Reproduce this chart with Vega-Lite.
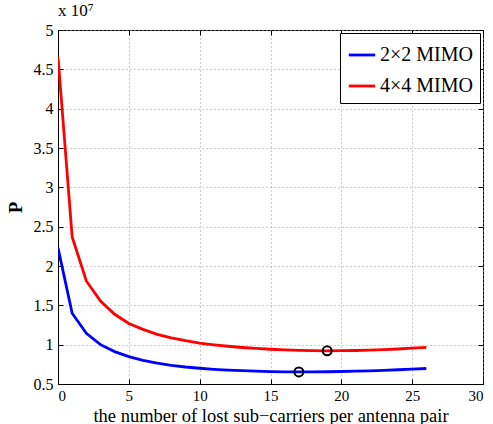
{
  "$schema": "https://vega.github.io/schema/vega-lite/v6.json",
  "width": 425,
  "height": 354,
  "autosize": "none",
  "padding": {"left": 58, "top": 30, "right": 10, "bottom": 40},
  "background": "white",
  "config": {
    "font": "Liberation Serif",
    "view": {"stroke": "black", "strokeWidth": 1}
  },
  "title": {
    "text": "x 10⁷",
    "anchor": "start",
    "frame": "group",
    "fontSize": 17,
    "fontWeight": "normal",
    "font": "Liberation Serif",
    "color": "black",
    "offset": 2
  },
  "datasets": {
    "curves": [
      {"x": 0, "P": 2.23, "series": "2×2 MIMO"},
      {"x": 1, "P": 1.40, "series": "2×2 MIMO"},
      {"x": 2, "P": 1.145, "series": "2×2 MIMO"},
      {"x": 3, "P": 1.0, "series": "2×2 MIMO"},
      {"x": 4, "P": 0.912, "series": "2×2 MIMO"},
      {"x": 5, "P": 0.848, "series": "2×2 MIMO"},
      {"x": 6, "P": 0.80, "series": "2×2 MIMO"},
      {"x": 7, "P": 0.765, "series": "2×2 MIMO"},
      {"x": 8, "P": 0.737, "series": "2×2 MIMO"},
      {"x": 9, "P": 0.716, "series": "2×2 MIMO"},
      {"x": 10, "P": 0.70, "series": "2×2 MIMO"},
      {"x": 11, "P": 0.687, "series": "2×2 MIMO"},
      {"x": 12, "P": 0.677, "series": "2×2 MIMO"},
      {"x": 13, "P": 0.669, "series": "2×2 MIMO"},
      {"x": 14, "P": 0.663, "series": "2×2 MIMO"},
      {"x": 15, "P": 0.658, "series": "2×2 MIMO"},
      {"x": 16, "P": 0.655, "series": "2×2 MIMO"},
      {"x": 17, "P": 0.653, "series": "2×2 MIMO"},
      {"x": 18, "P": 0.654, "series": "2×2 MIMO"},
      {"x": 19, "P": 0.656, "series": "2×2 MIMO"},
      {"x": 20, "P": 0.659, "series": "2×2 MIMO"},
      {"x": 21, "P": 0.663, "series": "2×2 MIMO"},
      {"x": 22, "P": 0.668, "series": "2×2 MIMO"},
      {"x": 23, "P": 0.674, "series": "2×2 MIMO"},
      {"x": 24, "P": 0.681, "series": "2×2 MIMO"},
      {"x": 25, "P": 0.689, "series": "2×2 MIMO"},
      {"x": 26, "P": 0.697, "series": "2×2 MIMO"},
      {"x": 0, "P": 4.66, "series": "4×4 MIMO"},
      {"x": 1, "P": 2.37, "series": "4×4 MIMO"},
      {"x": 2, "P": 1.81, "series": "4×4 MIMO"},
      {"x": 3, "P": 1.555, "series": "4×4 MIMO"},
      {"x": 4, "P": 1.386, "series": "4×4 MIMO"},
      {"x": 5, "P": 1.27, "series": "4×4 MIMO"},
      {"x": 6, "P": 1.195, "series": "4×4 MIMO"},
      {"x": 7, "P": 1.13, "series": "4×4 MIMO"},
      {"x": 8, "P": 1.085, "series": "4×4 MIMO"},
      {"x": 9, "P": 1.05, "series": "4×4 MIMO"},
      {"x": 10, "P": 1.02, "series": "4×4 MIMO"},
      {"x": 11, "P": 0.998, "series": "4×4 MIMO"},
      {"x": 12, "P": 0.98, "series": "4×4 MIMO"},
      {"x": 13, "P": 0.964, "series": "4×4 MIMO"},
      {"x": 14, "P": 0.952, "series": "4×4 MIMO"},
      {"x": 15, "P": 0.942, "series": "4×4 MIMO"},
      {"x": 16, "P": 0.934, "series": "4×4 MIMO"},
      {"x": 17, "P": 0.928, "series": "4×4 MIMO"},
      {"x": 18, "P": 0.924, "series": "4×4 MIMO"},
      {"x": 19, "P": 0.922, "series": "4×4 MIMO"},
      {"x": 20, "P": 0.923, "series": "4×4 MIMO"},
      {"x": 21, "P": 0.926, "series": "4×4 MIMO"},
      {"x": 22, "P": 0.93, "series": "4×4 MIMO"},
      {"x": 23, "P": 0.937, "series": "4×4 MIMO"},
      {"x": 24, "P": 0.945, "series": "4×4 MIMO"},
      {"x": 25, "P": 0.955, "series": "4×4 MIMO"},
      {"x": 26, "P": 0.965, "series": "4×4 MIMO"}
    ],
    "minima": [
      {"x": 17, "P": 0.653, "series": "2×2 MIMO"},
      {"x": 19, "P": 0.922, "series": "4×4 MIMO"}
    ]
  },
  "resolve": {"axis": {"x": "independent", "y": "independent"}},
  "layer": [
    {
      "data": {"name": "curves"},
      "mark": {"type": "line", "strokeWidth": 2.8, "clip": true},
      "encoding": {
        "x": {
          "field": "x", "type": "quantitative",
          "scale": {"domain": [0, 30], "nice": false},
          "axis": {"values": [0, 5, 10, 15, 20, 25, 30], "tickSize": -5, "tickColor": "black", "labelPadding": 9,
                   "labelFont": "Liberation Serif", "labelFontSize": 15, "labelColor": "black",
                   "domainColor": "black", "gridColor": "#9a9a9a", "gridDash": [1, 3], "gridWidth": 1,
                   "title": "the number of lost sub−carriers per antenna pair",
                   "titleFont": "Liberation Serif", "titleFontSize": 18.5, "titleFontWeight": "normal", "titleColor": "black", "titlePadding": 3}
        },
        "y": {
          "field": "P", "type": "quantitative",
          "scale": {"domain": [0.5, 5], "nice": false, "zero": false},
          "axis": {"values": [0.5, 1, 1.5, 2, 2.5, 3, 3.5, 4, 4.5, 5], "format": "~g", "tickSize": -5, "tickColor": "black", "labelPadding": 10,
                   "labelFont": "Liberation Serif", "labelFontSize": 16, "labelColor": "black",
                   "domainColor": "black", "gridColor": "#9a9a9a", "gridDash": [1, 3], "gridWidth": 1,
                   "title": "P", "titleFont": "Liberation Serif", "titleFontSize": 19, "titleFontWeight": "bold", "titleColor": "black", "titlePadding": 8}
        },
        "color": {
          "field": "series", "type": "nominal",
          "scale": {"domain": ["2×2 MIMO", "4×4 MIMO"], "range": ["#0000ff", "#ff0000"]},
          "legend": {
            "title": null, "orient": "top-right", "offset": 3,
            "strokeColor": "black", "fillColor": "white", "padding": 7,
            "labelFontSize": 20, "labelFont": "Liberation Serif", "labelColor": "black",
            "symbolType": "stroke", "symbolStrokeWidth": 2.8, "symbolSize": 700,
            "rowPadding": 6, "labelOffset": 3, "cornerRadius": 0
          }
        }
      }
    },
    {
      "data": {"name": "minima"},
      "mark": {"type": "point", "shape": "circle", "filled": false, "stroke": "black", "strokeWidth": 2, "size": 80, "opacity": 1},
      "encoding": {
        "x": {"field": "x", "type": "quantitative",
              "axis": {"orient": "top", "values": [0, 5, 10, 15, 20, 25, 30], "labels": false, "domain": false, "grid": false, "tickSize": -5, "tickColor": "black", "title": null}},
        "y": {"field": "P", "type": "quantitative",
              "axis": {"orient": "right", "values": [0.5, 1, 1.5, 2, 2.5, 3, 3.5, 4, 4.5, 5], "labels": false, "domain": false, "grid": false, "tickSize": -5, "tickColor": "black", "title": null}}
      }
    }
  ]
}
